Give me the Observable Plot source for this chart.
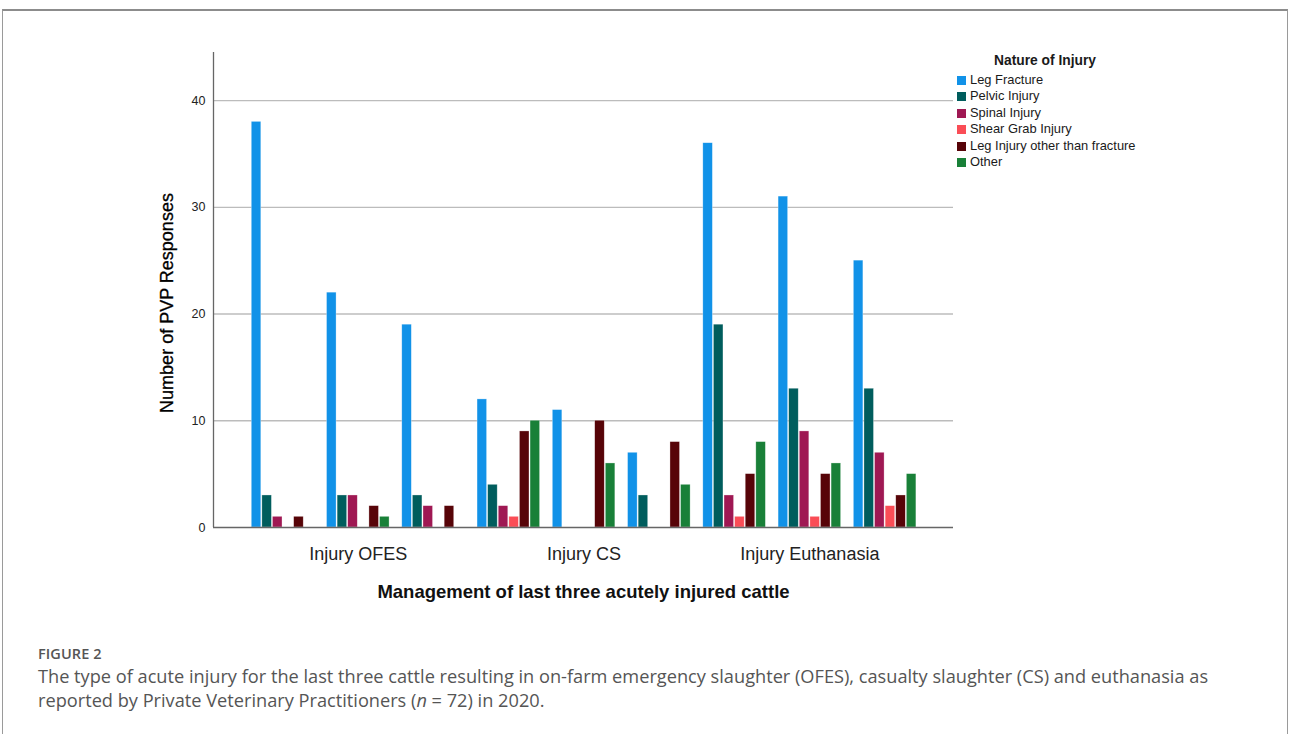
<!DOCTYPE html>
<html>
<head>
<meta charset="utf-8">
<script src="https://cdn.jsdelivr.net/npm/d3@7"></script>
<script src="https://cdn.jsdelivr.net/npm/@observablehq/plot@0.6"></script>
<style>
  html, body { margin: 0; padding: 0; background: #fff; }
  #page { position: relative; width: 1290px; height: 734px; overflow: hidden; background: #fff; }
  #box { position: absolute; left: 2px; top: 9px; width: 1286px; height: 800px;
         border: 1px solid #9a9a9a; border-top: 2px solid #8c8c8c; box-sizing: border-box; }
  #chart { position: absolute; left: 0; top: 0; }
  #legend { position: absolute; left: 957px; top: 53px; font-family: "Liberation Sans", Arial, sans-serif;
            font-size: 12.9px; color: #1a1a1a; }
  #legend .title { position: absolute; left: 37px; top: 0; font-weight: bold; font-size: 13.8px; white-space: nowrap; }
  #legend .item { position: absolute; left: 0; white-space: nowrap; height: 14px; line-height: 14px; }
  #legend .sw { display: inline-block; width: 9px; height: 9px; vertical-align: -1px; margin-right: 4px; }
  #caption { position: absolute; left: 38px; top: 645px; font-family: "Open Sans", "Noto Sans", sans-serif; color: #555; }
  #caption .fig { font-size: 14.5px; font-weight: 600; letter-spacing: 0.1px; line-height: 18px; }
  #caption .txt { font-size: 18.2px; line-height: 24px; margin-top: 1px; }
</style>
</head>
<body>
<div id="page">
  <div id="box"></div>
  <div id="chart"></div>
  <div id="legend"></div>
  <div id="caption">
    <div class="fig">FIGURE 2</div>
    <div class="txt">The type of acute injury for the last three cattle resulting in on-farm emergency slaughter (OFES), casualty slaughter (CS) and euthanasia as<br>reported by Private Veterinary Practitioners (<i>n</i> = 72) in 2020.</div>
  </div>
</div>
<script>
// ---- Data ----
const groups = ["Injury OFES", "Injury CS", "Injury Euthanasia"];
const cattle = ["1", "2", "3"]; // last three acutely injured cattle
const injuries = ["Leg Fracture", "Pelvic Injury", "Spinal Injury", "Shear Grab Injury", "Leg Injury other than fracture", "Other"];
const injuryColors = ["#1192e8", "#005d5d", "#9f1853", "#fa4d56", "#570408", "#198038"];
// values per injury type, in order OFES 1-3, CS 1-3, Euthanasia 1-3
const legFracture = [38, 22, 19, 12, 11, 7, 36, 31, 25];
const pelvicInjury = [3, 3, 3, 4, 0, 3, 19, 13, 13];
const spinalInjury = [1, 3, 2, 2, 0, 0, 3, 9, 7];
const shearGrabInjury = [0, 0, 0, 1, 0, 0, 1, 1, 2];
const legInjuryOther = [1, 2, 2, 9, 10, 8, 5, 5, 3];
const other = [0, 1, 0, 10, 6, 4, 8, 6, 5];
const yTicks = [0, 10, 20, 30, 40];
const yTitle = "Number of PVP Responses";
const xTitle = "Management of last three acutely injured cattle";
const legendTitle = "Nature of Injury";

// ---- Table ----
const series = [legFracture, pelvicInjury, spinalInjury, shearGrabInjury, legInjuryOther, other];
const clusterStep = 7.1; // slots per cattle cluster (6 bars + gap)
const data = [];
groups.forEach((g, gi) => cattle.forEach((c, ci) => {
  const k = gi * cattle.length + ci;
  injuries.forEach((inj, ii) => {
    data.push({group: g, cattle: c, injury: inj, value: series[ii][k], pos: k * clusterStep + ii});
  });
}));
const groupLabels = groups.map((g, gi) => {
  const first = gi * 3 * clusterStep;
  const last = (gi * 3 + 2) * clusterStep + injuries.length - 1;
  return {label: g, pos: (first + last) / 2};
});
const xMin = -4.06, xMax = xMin + 740 / 10.6;

const chart = Plot.plot({
  width: 1290, height: 620,
  marginLeft: 213, marginRight: 337, marginTop: 52, marginBottom: 93,
  style: {fontFamily: "'Liberation Sans', Arial, sans-serif", fontSize: "12.5px", color: "#222", background: "transparent", overflow: "visible"},
  x: {type: "linear", domain: [xMin, xMax], axis: null},
  y: {domain: [0, 44.5], ticks: yTicks, tickSize: 0, tickPadding: 8, label: null},
  color: {domain: injuries, range: injuryColors},
  marks: [
    Plot.ruleY(yTicks.filter(d => d > 0), {stroke: "#bcbcbc", strokeWidth: 1.3}),
    Plot.rectY(data.filter(d => d.value > 0), {
      x1: d => d.pos - 0.45, x2: d => d.pos + 0.45, y1: 0, y2: "value",
      fill: "injury", stroke: "#ffffff", strokeOpacity: 0.5, strokeWidth: 0.6
    }),
    Plot.ruleY([0], {stroke: "#666", strokeWidth: 1.3}),
    Plot.ruleX([xMin], {stroke: "#666", strokeWidth: 1.3}),
    Plot.text(groupLabels, {x: "pos", y: 0, text: "label", dy: 27, fontSize: 18, fill: "#222"}),
    Plot.text([xTitle], {frameAnchor: "bottom", dy: 70, fontSize: 18.5, fontWeight: "bold", fill: "#111"}),
    Plot.text([yTitle], {frameAnchor: "left", textAnchor: "middle", dx: -46, dy: 13, rotate: -90, fontSize: 18, fill: "#000", stroke: "#000", strokeWidth: 0.3})
  ]
});
document.getElementById("chart").appendChild(chart);

// ---- Legend (from the plot's own color scale) ----
const colorScale = chart.scale("color");
const legend = document.getElementById("legend");
const t = document.createElement("div");
t.className = "title"; t.textContent = legendTitle; legend.appendChild(t);
colorScale.domain.forEach((name, i) => {
  const it = document.createElement("div");
  it.className = "item";
  it.style.top = (20 + i * 16.4) + "px";
  const sw = document.createElement("span");
  sw.className = "sw"; sw.style.background = colorScale.range[i];
  it.appendChild(sw);
  it.appendChild(document.createTextNode(name));
  legend.appendChild(it);
});
</script>
</body>
</html>
